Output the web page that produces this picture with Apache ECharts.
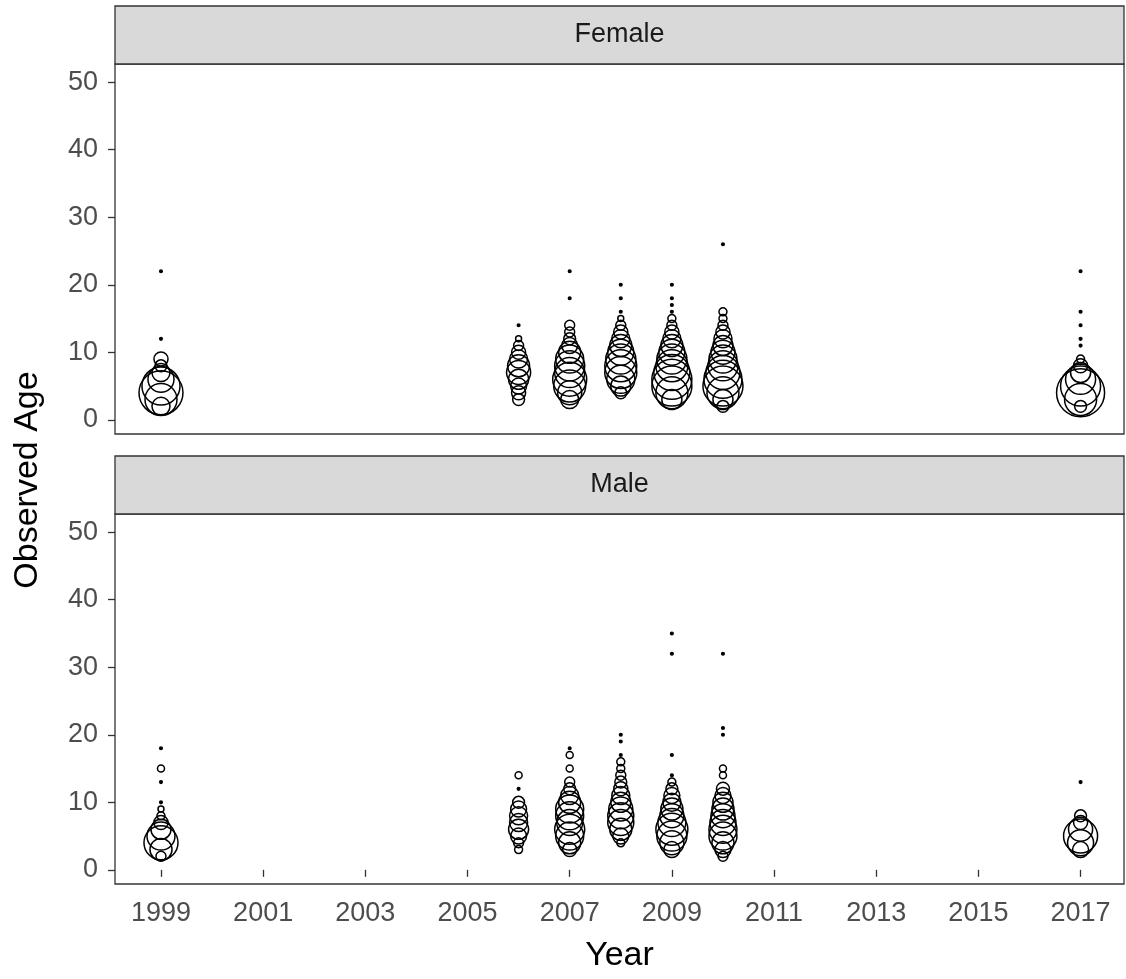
<!DOCTYPE html>
<html>
<head>
<meta charset="utf-8">
<script src="https://cdn.jsdelivr.net/npm/echarts@6/dist/echarts.min.js"></script>
<style>
  html, body { margin: 0; padding: 0; background: #fff; }
  #chart { width: 1126px; height: 979px; }
</style>
</head>
<body>
<div id="chart"></div>
<script>
// ---- data ----
const panels = ['Female', 'Male'];
const years = [1999, 2006, 2007, 2008, 2009, 2010, 2017];
const xTicks = [1999, 2001, 2003, 2005, 2007, 2009, 2011, 2013, 2015, 2017];
const yTicks = [0, 10, 20, 30, 40, 50];

const femaleAges = [
  [2, 3, 4, 5, 6, 7, 8, 9, 12, 22],
  [3, 4, 5, 6, 7, 8, 9, 10, 11, 12, 14],
  [3, 4, 5, 6, 7, 8, 9, 10, 11, 12, 13, 14, 18, 22],
  [4, 5, 6, 7, 8, 9, 10, 11, 12, 13, 14, 15, 16, 18, 20],
  [3, 4, 5, 6, 7, 8, 9, 10, 11, 12, 13, 14, 15, 16, 17, 18, 20],
  [2, 3, 4, 5, 6, 7, 8, 9, 10, 11, 12, 13, 14, 15, 16, 26],
  [2, 3, 4, 5, 6, 7, 8, 9, 11, 12, 14, 16, 22]
];
const femaleProps = [
  [0.046, 0.145, 0.274, 0.205, 0.096, 0.046, 0.020, 0.028, 0.001, 0.001],
  [0.020, 0.028, 0.036, 0.057, 0.082, 0.069, 0.046, 0.028, 0.014, 0.005, 0.001],
  [0.046, 0.082, 0.145, 0.164, 0.128, 0.128, 0.111, 0.069, 0.036, 0.020, 0.014, 0.014, 0.001, 0.001],
  [0.020, 0.057, 0.111, 0.145, 0.145, 0.128, 0.096, 0.069, 0.046, 0.028, 0.014, 0.005, 0.001, 0.001, 0.001],
  [0.057, 0.145, 0.227, 0.227, 0.184, 0.145, 0.128, 0.096, 0.069, 0.046, 0.028, 0.014, 0.009, 0.001, 0.001, 0.001, 0.001],
  [0.020, 0.057, 0.145, 0.227, 0.205, 0.164, 0.128, 0.111, 0.082, 0.057, 0.046, 0.028, 0.014, 0.009, 0.009, 0.001],
  [0.020, 0.145, 0.327, 0.227, 0.128, 0.057, 0.028, 0.009, 0.001, 0.001, 0.001, 0.001, 0.001]
];

const maleAges = [
  [2, 3, 4, 5, 6, 7, 8, 9, 10, 13, 15, 18],
  [3, 4, 5, 6, 7, 8, 9, 10, 12, 14],
  [3, 4, 5, 6, 7, 8, 9, 10, 11, 12, 13, 15, 17, 18],
  [4, 5, 6, 7, 8, 9, 10, 11, 12, 13, 14, 15, 16, 17, 19, 20],
  [3, 4, 5, 6, 7, 8, 9, 10, 11, 12, 13, 14, 17, 32, 35],
  [2, 3, 4, 5, 6, 7, 8, 9, 10, 11, 12, 14, 15, 20, 21, 32],
  [3, 4, 5, 6, 7, 8, 13]
];
const maleProps = [
  [0.014, 0.069, 0.164, 0.111, 0.057, 0.028, 0.009, 0.005, 0.001, 0.001, 0.007, 0.001],
  [0.009, 0.014, 0.036, 0.057, 0.046, 0.046, 0.036, 0.020, 0.001, 0.007],
  [0.028, 0.069, 0.111, 0.128, 0.096, 0.111, 0.111, 0.069, 0.046, 0.020, 0.014, 0.007, 0.007, 0.001],
  [0.009, 0.036, 0.069, 0.096, 0.096, 0.082, 0.057, 0.046, 0.028, 0.020, 0.014, 0.009, 0.009, 0.001, 0.001, 0.001],
  [0.036, 0.082, 0.128, 0.145, 0.111, 0.082, 0.069, 0.046, 0.036, 0.020, 0.009, 0.001, 0.001, 0.001, 0.001],
  [0.014, 0.036, 0.069, 0.111, 0.111, 0.096, 0.082, 0.069, 0.057, 0.036, 0.024, 0.007, 0.007, 0.001, 0.001, 0.001],
  [0.036, 0.096, 0.164, 0.082, 0.028, 0.020, 0.001]
];

// ---- build ----
function buildData(agesList, propsList) {
  const out = [];
  years.forEach((yr, i) => {
    agesList[i].forEach((age, j) => out.push([yr, age, propsList[i][j]]));
  });
  return out;
}

const FONT = "'Liberation Sans', Arial, sans-serif";
const LEFT = 115, RIGHT = 2, PANEL_H = 370;
const TOPS = [64, 514];
const STRIP_H = 58;
const XMIN = 1998.1, XMAX = 2017.85, YMIN = -2.1, YMAX = 52.7;
const SIZE_K = 84;

const grids = TOPS.map(t => ({
  left: LEFT, right: RIGHT, top: t, height: PANEL_H,
  show: true, borderColor: '#333333', borderWidth: 1.3, backgroundColor: '#fff'
}));

const xAxes = TOPS.map((t, i) => ({
  type: 'value', gridIndex: i, min: XMIN, max: XMAX,
  splitLine: { show: false },
  axisLine: { show: false },
  axisTick: { show: i === 1, length: 7, lineStyle: { color: '#333333', width: 1.3 }, customValues: xTicks },
  axisLabel: {
    show: i === 1, customValues: xTicks, margin: 16,
    fontSize: 27, color: '#4D4D4D', fontFamily: FONT,
    formatter: v => String(v)
  }
}));

const yAxes = TOPS.map((t, i) => ({
  type: 'value', gridIndex: i, min: YMIN, max: YMAX,
  splitLine: { show: false },
  axisLine: { show: false },
  axisTick: { show: true, length: 7, lineStyle: { color: '#333333', width: 1.3 }, customValues: yTicks },
  axisLabel: {
    customValues: yTicks, margin: 17,
    fontSize: 27, color: '#4D4D4D', fontFamily: FONT,
    formatter: v => String(v)
  }
}));

const seriesData = [buildData(femaleAges, femaleProps), buildData(maleAges, maleProps)];
const series = panels.map((name, i) => ({
  name: name, type: 'scatter', xAxisIndex: i, yAxisIndex: i,
  data: seriesData[i],
  symbol: 'circle',
  symbolSize: v => SIZE_K * Math.sqrt(v[2]),
  itemStyle: {
    color: p => (SIZE_K * Math.sqrt(p.value[2]) < 4 ? '#000' : 'rgba(0,0,0,0)'),
    borderColor: '#000', borderWidth: 1.5, opacity: 1
  },
  emphasis: { disabled: true },
  animation: false
}));

const graphics = [];
panels.forEach((name, i) => {
  const top = TOPS[i] - STRIP_H;
  graphics.push({
    type: 'rect', shape: { x: LEFT, y: top, width: 1126 - LEFT - RIGHT, height: STRIP_H },
    style: { fill: '#D9D9D9', stroke: '#333333', lineWidth: 1.3 }, z: 10
  });
  graphics.push({
    type: 'text', x: LEFT + (1126 - LEFT - RIGHT) / 2, y: top + STRIP_H / 2,
    style: { text: name, fontSize: 27, fill: '#1A1A1A', fontFamily: FONT, align: 'center', verticalAlign: 'middle' }, z: 11
  });
});
graphics.push({
  type: 'text', x: LEFT + (1126 - LEFT - RIGHT) / 2, y: 956,
  style: { text: 'Year', fontSize: 34, fill: '#000', fontFamily: FONT, align: 'center', verticalAlign: 'middle' }
});
graphics.push({
  type: 'text', x: 28, y: 480, rotation: Math.PI / 2,
  style: { text: 'Observed Age', fontSize: 34, fill: '#000', fontFamily: FONT, align: 'center', verticalAlign: 'middle' }
});

const chart = echarts.init(document.getElementById('chart'), null, { renderer: 'canvas' });
chart.setOption({
  animation: false,
  backgroundColor: '#fff',
  grid: grids,
  xAxis: xAxes,
  yAxis: yAxes,
  series: series,
  graphic: graphics
});
</script>
</body>
</html>
